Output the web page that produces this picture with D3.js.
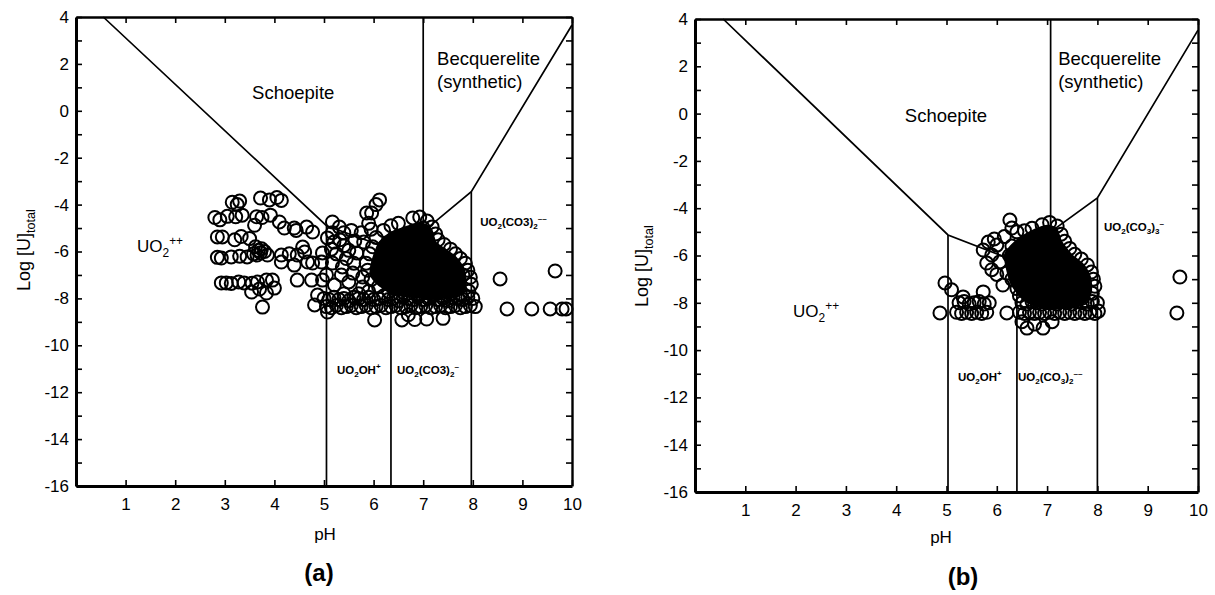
<!DOCTYPE html>
<html>
<head>
<meta charset="utf-8">
<script src="https://cdn.jsdelivr.net/npm/d3@7"></script>
<style>
  body { margin: 0; background: #fff; }
  svg { display: block; }
  text { font-family: "Liberation Sans", Arial, sans-serif; fill: #000; }
</style>
</head>
<body>
<svg id="chart" width="1215" height="595"></svg>
<script>
// ---- data ----
const xTickVals = [1, 2, 3, 4, 5, 6, 7, 8, 9, 10];
const yTickVals = [4, 3, 2, 1, 0, -1, -2, -3, -4, -5, -6, -7, -8, -9, -10, -11, -12, -13, -14, -15, -16];
const yLabelVals = [4, 2, 0, -2, -4, -6, -8, -10, -12, -14, -16];

// phase boundaries [pH, log U]
const boundaryA = [[0.55, 4], [5.05, -4.9], [6.35, -5.9], [7.0, -5.15], [7.97, -3.45], [10, 3.66]];
const boundaryB = [[0.56, 4], [5.03, -5.13], [6.4, -6.26], [7.07, -5.0], [8.0, -3.57], [10, 3.53]];
// vertical field lines [pH, logU from, logU to]
const fieldsA = [[5.05, -16, -4.9], [6.35, -16, -5.9], [7.0, 4, -5.15], [7.97, -16, -3.45]];
const fieldsB = [[5.03, -16, -5.13], [6.4, -16, -6.26], [7.07, 4, -5.0], [8.0, -16, -3.57]];

// region where the samples overlap into solid black
const denseA = [[5.97, -6.3], [6.1, -5.6], [6.32, -5.2], [6.67, -4.9], [7.02, -4.8], [7.18, -5.05], [7.27, -5.6], [7.47, -5.9],
  [7.66, -6.2], [7.83, -6.7], [7.88, -7.4], [7.75, -7.9], [7.2, -8.05], [6.5, -7.9], [6.12, -7.5], [5.92, -7.0]];
const denseB = [[6.15, -5.9], [6.4, -5.3], [6.72, -4.9], [7.0, -4.7], [7.2, -4.85], [7.3, -5.4], [7.5, -5.95], [7.75, -6.4],
  [7.88, -6.95], [7.88, -7.65], [7.65, -8.15], [7.0, -8.3], [6.55, -7.95], [6.28, -7.25], [6.18, -6.55]];

// groundwater samples (a) [pH, log U]
const samplesA = [
  [3.15, -3.9], [3.3, -3.85], [3.25, -4.0], [3.72, -3.72], [3.9, -3.8], [4.05, -3.7], [4.14, -3.82],
  [2.8, -4.55], [2.9, -4.65], [3.05, -4.5], [3.22, -4.52], [3.35, -4.45], [3.64, -4.52], [3.75, -4.55], [3.92, -4.45], [4.1, -4.74],
  [3.6, -4.88], [4.2, -5.0], [4.4, -5.0], [4.44, -5.1], [4.65, -4.96], [4.77, -5.17],
  [2.85, -5.38], [2.95, -5.38], [3.33, -5.36], [3.5, -5.45], [3.2, -5.5],
  [3.62, -5.8], [3.68, -5.95], [3.74, -5.88], [3.8, -6.0], [3.72, -6.05], [3.58, -6.1], [3.65, -6.15],
  [2.85, -6.25], [2.93, -6.28], [3.13, -6.23], [3.3, -6.2], [3.45, -6.23], [3.86, -6.15], [4.14, -6.15], [4.3, -6.1], [4.46, -6.15], [4.57, -5.81], [4.61, -6.02],
  [4.14, -6.45], [4.4, -6.58], [4.67, -6.45], [4.77, -6.49], [4.95, -6.45], [4.97, -6.06],
  [2.93, -7.34], [3.03, -7.34], [3.13, -7.36], [3.28, -7.3], [3.39, -7.34], [3.55, -7.35], [3.66, -7.3], [3.84, -7.22], [3.96, -7.22], [4.0, -7.56], [4.46, -7.22], [4.75, -7.22], [4.97, -7.22],
  [3.54, -7.73], [3.84, -7.77], [3.7, -7.6], [3.76, -8.37],
  [5.17, -4.74], [5.31, -4.96], [5.17, -5.2], [5.07, -5.42], [5.2, -5.6], [5.32, -5.5], [5.4, -5.75], [5.15, -5.9], [5.5, -5.95], [5.66, -6.06],
  [5.37, -6.66], [5.17, -6.49], [5.58, -6.92], [5.78, -7.09], [5.78, -7.51], [5.21, -7.43], [4.87, -7.86], [5.07, -8.58], [5.5, -7.3], [5.35, -7.0],
  [5.6, -6.5], [5.45, -6.3], [5.05, -7.0], [5.25, -6.1], [5.62, -5.55], [5.75, -5.2], [5.55, -5.1], [5.4, -5.2],
  [5.96, -4.36], [5.86, -4.36], [6.12, -3.8], [6.05, -4.0], [5.9, -4.8], [5.95, -5.05], [5.8, -5.6], [5.85, -6.5], [5.7, -7.8], [5.4, -7.8], [5.9, -7.7],
  [6.2, -5.1], [6.35, -4.9], [6.5, -4.8], [6.79, -4.57], [6.93, -4.53], [7.08, -4.7], [7.18, -4.95], [7.25, -5.25], [7.3, -5.5], [7.42, -5.7],
  [7.55, -5.9], [7.65, -6.1], [7.75, -6.3], [7.85, -6.5], [7.9, -6.8], [7.95, -7.1], [7.97, -7.4], [7.92, -7.7], [6.05, -5.4], [5.98, -5.8],
  [5.92, -6.1], [5.88, -6.8], [5.95, -7.2], [6.1, -7.5], [6.3, -7.7], [6.6, -7.75], [6.9, -7.8], [7.2, -7.8], [7.5, -7.75], [7.75, -7.8],
  [6.62, -5.3], [6.4, -5.5], [7.0, -5.0], [7.6, -6.6], [7.8, -7.0],
  [5.0, -8.0], [5.1, -8.05], [5.2, -7.95], [5.3, -8.05], [5.4, -8.0], [5.5, -8.1], [5.6, -7.95], [5.7, -8.0], [5.8, -8.05], [5.9, -7.95],
  [6.0, -8.05], [6.1, -8.0], [6.2, -7.9], [6.3, -8.05], [6.4, -8.0], [6.5, -8.1], [6.6, -7.95], [6.7, -8.0], [6.8, -8.05], [6.9, -7.95],
  [7.0, -8.05], [7.1, -8.0], [7.2, -7.9], [7.3, -8.05], [7.4, -8.0], [7.5, -8.1], [7.6, -7.95], [7.7, -8.0], [7.8, -8.05], [7.9, -7.95], [8.0, -8.0],
  [4.81, -8.28], [5.05, -8.35], [5.15, -8.4], [5.25, -8.3], [5.35, -8.4], [5.45, -8.35], [5.55, -8.3], [5.65, -8.4], [5.75, -8.35], [5.85, -8.3],
  [5.95, -8.4], [6.05, -8.35], [6.15, -8.3], [6.25, -8.4], [6.35, -8.35], [6.45, -8.3], [6.55, -8.4], [6.65, -8.35], [6.75, -8.3], [6.85, -8.4],
  [6.95, -8.35], [7.05, -8.3], [7.15, -8.4], [7.25, -8.35], [7.35, -8.3], [7.45, -8.4], [7.55, -8.35], [7.65, -8.3], [7.75, -8.4], [7.85, -8.35],
  [7.95, -8.3], [8.05, -8.35],
  [6.02, -8.92], [6.57, -8.92], [6.83, -8.9], [7.07, -8.88], [7.4, -8.85], [6.7, -8.7],
  [8.55, -7.17], [9.66, -6.83], [8.69, -8.45], [9.19, -8.45], [9.56, -8.45], [9.8, -8.45], [9.88, -8.45]
];

// groundwater samples (b) [pH, log U]
const samplesB = [
  [6.26, -4.5], [6.3, -4.84], [6.4, -5.0], [5.83, -5.43], [6.0, -5.56], [5.73, -5.77], [5.9, -5.98], [5.8, -6.32], [6.06, -6.27],
  [6.2, -6.74], [6.0, -6.8], [6.12, -7.25], [6.4, -7.4], [5.95, -5.3], [6.15, -5.2], [6.55, -4.95], [5.9, -6.6],
  [4.97, -7.16], [5.33, -7.75], [5.73, -7.54], [5.1, -7.45],
  [6.7, -4.85], [6.9, -4.7], [7.05, -4.6], [7.2, -4.75], [7.28, -5.1], [7.35, -5.4], [7.45, -5.7], [7.55, -5.95], [7.68, -6.15],
  [7.8, -6.4], [7.88, -6.7], [7.92, -7.0], [7.95, -7.3], [7.9, -7.6], [7.7, -7.8], [6.5, -6.0], [6.3, -5.6], [6.25, -6.0], [6.3, -7.0],
  [6.45, -7.7], [7.6, -6.6],
  [5.25, -8.0], [5.35, -7.95], [5.45, -8.05], [5.55, -8.0], [5.65, -7.95], [5.75, -8.05], [5.85, -8.0],
  [6.5, -8.0], [6.6, -8.05], [6.7, -7.95], [6.8, -8.0], [6.9, -8.05], [7.0, -7.95], [7.1, -8.0], [7.2, -8.05], [7.3, -7.95], [7.4, -8.0],
  [7.5, -8.05], [7.6, -7.95], [7.7, -8.0], [7.8, -8.05], [7.9, -7.95], [8.0, -8.0],
  [4.87, -8.43], [5.2, -8.4], [5.3, -8.45], [5.4, -8.4], [5.5, -8.45], [5.6, -8.4], [5.7, -8.45], [5.8, -8.4], [6.2, -8.43],
  [6.45, -8.4], [6.55, -8.45], [6.65, -8.4], [6.75, -8.45], [6.85, -8.4], [6.95, -8.45], [7.05, -8.4], [7.15, -8.45], [7.25, -8.4],
  [7.35, -8.45], [7.45, -8.4], [7.55, -8.45], [7.65, -8.4], [7.75, -8.45], [7.85, -8.4], [7.95, -8.45], [8.02, -8.35],
  [6.6, -9.07], [6.92, -9.07], [6.5, -8.8], [6.75, -8.9], [7.1, -8.8],
  [9.58, -8.43], [9.64, -6.91]
];

// ---- drawing ----
const svg = d3.select("#chart");

function richText(g, px, py, parts, size, opts) {
  opts = opts || {};
  const t = g.append("text")
    .attr("x", px).attr("y", py)
    .attr("font-size", size)
    .attr("text-anchor", opts.anchor || "start")
    .attr("font-weight", opts.weight || "normal");
  if (opts.rotate) t.attr("transform", "rotate(-90," + px + "," + py + ")");
  let shift = 0;
  parts.forEach(function(p) {
    let target = 0, fs = size;
    if (p[1] === "sub") { target = size * 0.3; fs = size * 0.7; }
    if (p[1] === "sup") { target = -size * 0.4; fs = size * 0.7; }
    t.append("tspan").attr("dy", target - shift).attr("font-size", fs).text(p[0]);
    shift = target;
  });
  return t;
}

function drawPanel(p) {
  const g = svg.append("g");
  const x = d3.scaleLinear().domain([0, 10]).range([p.left, p.left + p.width]);
  const y = d3.scaleLinear().domain([-16, 4]).range([p.top + p.height, p.top]);
  const line = d3.line().x(d => x(d[0])).y(d => y(d[1]));

  // field boundaries
  g.append("path").datum(p.boundary).attr("d", line)
    .attr("fill", "none").attr("stroke", "#000").attr("stroke-width", 1.7);
  g.selectAll(".field").data(p.fields).join("line")
    .attr("class", "field")
    .attr("x1", d => x(d[0])).attr("x2", d => x(d[0]))
    .attr("y1", d => y(d[1])).attr("y2", d => y(d[2]))
    .attr("stroke", "#000").attr("stroke-width", 1.7);

  // solid overlap area
  g.append("path").datum(p.dense)
    .attr("d", d3.line().x(d => x(d[0])).y(d => y(d[1])).curve(d3.curveCardinalClosed.tension(0.3)))
    .attr("fill", "#000");

  // samples
  g.selectAll(".pt").data(p.samples).join("circle")
    .attr("class", "pt")
    .attr("cx", d => x(d[0])).attr("cy", d => y(d[1]))
    .attr("r", 6.5)
    .attr("fill", "none").attr("stroke", "#000").attr("stroke-width", 2);

  // axes, ticks pointing inward
  const bottom = g.append("g").attr("transform", "translate(0," + (p.top + p.height) + ")")
    .call(d3.axisBottom(x).tickValues(xTickVals).tickSize(-6).tickSizeOuter(0).tickPadding(p.xPad).tickFormat(d => String(d)));
  const left = g.append("g").attr("transform", "translate(" + p.left + ",0)")
    .call(d3.axisLeft(y).tickValues(yTickVals).tickSize(-6).tickSizeOuter(0).tickPadding(7)
      .tickFormat(d => yLabelVals.indexOf(d) >= 0 ? String(d) : ""));
  const top = g.append("g").attr("transform", "translate(0," + p.top + ")")
    .call(d3.axisTop(x).tickValues(xTickVals).tickSize(-6).tickSizeOuter(0).tickFormat(""));
  const right = g.append("g").attr("transform", "translate(" + (p.left + p.width) + ",0)")
    .call(d3.axisRight(y).tickValues(yTickVals).tickSize(-6).tickSizeOuter(0).tickFormat(""));

  [bottom, left, top, right].forEach(function(a, i) {
    a.select(".domain").attr("stroke", "#000").attr("stroke-width", i < 2 ? 3 : 2.4);
    a.selectAll(".tick line").attr("stroke", "#000").attr("stroke-width", 1.6);
    a.selectAll(".tick text").attr("font-size", 17)
      .attr("font-family", "'Liberation Sans', Arial, sans-serif").attr("fill", "#000");
  });

  // field labels
  richText(g, x(p.schoepite[0]), y(p.schoepite[1]), [["Schoepite", "n"]], 18.5, { anchor: "middle" });
  richText(g, x(p.becq[0]), y(p.becq[1]), [["Becquerelite", "n"]], 18.5);
  richText(g, x(p.becq[0]), y(p.becq[2]), [["(synthetic)", "n"]], 18.5);
  richText(g, x(p.uo2[0]), y(p.uo2[1]), [["UO", "n"], ["2", "sub"], ["++", "sup"]], 17);
  richText(g, x(p.carbR[0]), y(p.carbR[1]), p.carbRText, 11.5, { weight: "bold" });
  richText(g, x(p.uoh[0]), y(p.uoh[1]), [["UO", "n"], ["2", "sub"], ["OH", "n"], ["+", "sup"]], 11.5, { weight: "bold" });
  richText(g, x(p.carbL[0]), y(p.carbL[1]), p.carbLText, 11.5, { weight: "bold" });

  // axis titles and panel tag
  richText(g, p.phX, p.phY, [["pH", "n"]], 17, { anchor: "middle" });
  richText(g, p.yTitleX, p.yTitleY, [["Log [U]", "n"], ["total", "sub"]], 18, { anchor: "middle", rotate: true });
  g.append("text").attr("x", p.tagX).attr("y", p.tagY)
    .attr("text-anchor", "middle").attr("font-size", 24).attr("font-weight", "bold")
    .attr("font-family", "'Liberation Serif', 'Times New Roman', serif")
    .text(p.tag);
}

drawPanel({
  left: 76, top: 17, width: 496, height: 469, xPad: 12,
  boundary: boundaryA, fields: fieldsA, dense: denseA, samples: samplesA,
  schoepite: [4.38, 0.5], becq: [7.28, 1.95, 0.97], uo2: [1.23, -6.02],
  carbR: [8.15, -4.91], carbRText: [["UO", "n"], ["2", "sub"], ["(CO3)", "n"], ["2", "sub"], ["\u2013\u2013", "sup"]],
  uoh: [5.26, -11.22],
  carbL: [6.47, -11.22], carbLText: [["UO", "n"], ["2", "sub"], ["(CO3)", "n"], ["2", "sub"], ["\u2013", "sup"]],
  phX: 325, phY: 540, yTitleX: 30, yTitleY: 250, tagX: 319, tagY: 581, tag: "(a)"
});

drawPanel({
  left: 695, top: 19, width: 503, height: 473, xPad: 12,
  boundary: boundaryB, fields: fieldsB, dense: denseB, samples: samplesB,
  schoepite: [4.99, -0.36], becq: [7.22, 2.05, 1.08], uo2: [1.95, -8.6],
  carbR: [8.13, -4.96], carbRText: [["UO", "n"], ["2", "sub"], ["(CO", "n"], ["3", "sub"], [")", "n"], ["3", "sub"], ["\u2013", "sup"]],
  uoh: [5.23, -11.3],
  carbL: [6.42, -11.3], carbLText: [["UO", "n"], ["2", "sub"], ["(CO", "n"], ["3", "sub"], [")", "n"], ["2", "sub"], ["\u2013\u2013", "sup"]],
  phX: 941, phY: 543, yTitleX: 648, yTitleY: 266, tagX: 963, tagY: 585, tag: "(b)"
});
</script>
</body>
</html>
